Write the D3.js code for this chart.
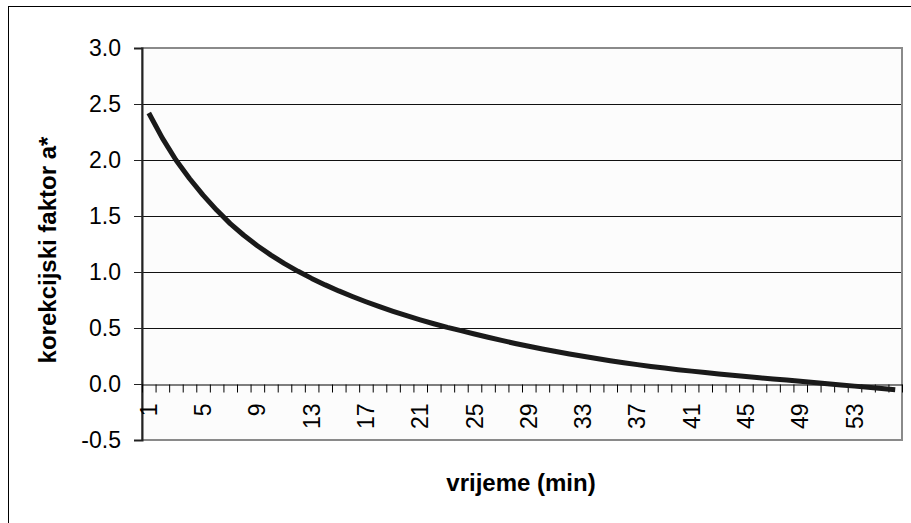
<!DOCTYPE html>
<html>
<head>
<meta charset="utf-8">
<script src="https://cdn.jsdelivr.net/npm/d3@7"></script>
<style>
  body { margin: 0; background: #fff; }
  svg { display: block; font-family: "Liberation Sans", Arial, sans-serif; }
</style>
</head>
<body>
<svg id="chart" width="911" height="523"></svg>
<script>
// data
var minutes = [1, 2, 3, 4, 5, 6, 7, 8, 9, 10, 11, 12, 13, 14, 15, 16, 17, 18, 19, 20,
  21, 22, 23, 24, 25, 26, 27, 28, 29, 30, 31, 32, 33, 34, 35, 36, 37, 38, 39, 40,
  41, 42, 43, 44, 45, 46, 47, 48, 49, 50, 51, 52, 53, 54, 55, 56];
var factor = [2.420, 2.195, 2.000, 1.835, 1.687, 1.553, 1.432, 1.328, 1.235, 1.151,
  1.075, 1.006, 0.943, 0.885, 0.831, 0.781, 0.734, 0.690, 0.649, 0.610,
  0.573, 0.538, 0.505, 0.476, 0.446, 0.417, 0.389, 0.362, 0.337, 0.313,
  0.290, 0.268, 0.247, 0.227, 0.208, 0.190, 0.173, 0.157, 0.142, 0.128,
  0.115, 0.102, 0.090, 0.078, 0.067, 0.056, 0.045, 0.035, 0.025, 0.014,
  0.003, -0.008, -0.019, -0.030, -0.041, -0.052];
var labelledMinutes = [1, 5, 9, 13, 17, 21, 25, 29, 33, 37, 41, 45, 49, 53];
var yTicks = [-0.5, 0.0, 0.5, 1.0, 1.5, 2.0, 2.5, 3.0];
var xTitle = "vrijeme (min)";
var yTitle = "korekcijski faktor a*";

// dimensions
var svg = d3.select("svg#chart"),
    plotLeft = 142, plotRight = 902, plotTop = 48, plotBottom = 440;

// outer chart border
svg.append("rect")
    .attr("x", 8.5).attr("y", 6.5)
    .attr("width", 920).attr("height", 540)
    .attr("fill", "#fff")
    .attr("stroke", "#000")
    .attr("stroke-width", 1);

//scales
var x = d3.scaleBand().domain(minutes).range([plotLeft, plotRight]).padding(0);
var xEdge = d3.scaleLinear().domain([0, minutes.length]).range([plotLeft, plotRight]);
var y = d3.scaleLinear().domain([-0.5, 3.0]).range([plotBottom, plotTop]);

// plot area
svg.append("rect")
    .attr("x", plotLeft).attr("y", plotTop)
    .attr("width", plotRight - plotLeft).attr("height", plotBottom - plotTop)
    .attr("fill", "#fcfcfc");

// gridlines
svg.append("g")
    .selectAll("line")
    .data(yTicks.filter(function(d) { return d > 0 && d < 3; }))
    .enter().append("line")
    .attr("x1", plotLeft).attr("x2", plotRight)
    .attr("y1", function(d) { return Math.round(y(d)) + 0.5; })
    .attr("y2", function(d) { return Math.round(y(d)) + 0.5; })
    .attr("stroke", "#111")
    .attr("stroke-width", 1);

// plot border (grey)
svg.append("rect")
    .attr("x", plotLeft).attr("y", plotTop)
    .attr("width", plotRight - plotLeft).attr("height", plotBottom - plotTop)
    .attr("fill", "none")
    .attr("stroke", "#8a8a8a")
    .attr("stroke-width", 2);

// y axis
var yAxis = svg.append("g")
    .attr("transform", "translate(" + plotLeft + ",0)")
    .call(d3.axisLeft(y).tickValues(yTicks).tickSize(8).tickPadding(13)
      .tickFormat(function(d) { return d.toFixed(1); }));
yAxis.select(".domain").attr("stroke", "#222").attr("stroke-width", 2);
yAxis.selectAll(".tick line").attr("stroke", "#222");
yAxis.selectAll("text")
    .attr("font-size", 23)
    .attr("fill", "#000")
    .attr("font-family", "Liberation Sans, Arial, sans-serif");

// x axis tick marks on category edges
var zeroY = Math.round(y(0)) + 0.5;
var xTickAxis = svg.append("g")
    .attr("transform", "translate(0," + zeroY + ")")
    .call(d3.axisBottom(xEdge).tickValues(d3.range(0, minutes.length + 1))
      .tickSize(8).tickSizeOuter(0).tickFormat(""));
xTickAxis.select(".domain").attr("stroke", "#000");
xTickAxis.selectAll(".tick line").attr("stroke", "#000");

// x axis labels
var xLabelAxis = svg.append("g")
    .attr("transform", "translate(0," + zeroY + ")")
    .call(d3.axisBottom(x).tickValues(labelledMinutes).tickSize(0));
xLabelAxis.select(".domain").remove();
xLabelAxis.selectAll("text")
    .attr("transform", "rotate(-90)")
    .attr("x", -19)
    .attr("y", 0)
    .attr("dy", "0.35em")
    .style("text-anchor", "end")
    .attr("font-size", 23)
    .attr("fill", "#000")
    .attr("font-family", "Liberation Sans, Arial, sans-serif");

// line
var line = d3.line()
    .x(function(d, i) { return x(minutes[i]) + x.bandwidth() / 2; })
    .y(function(d) { return y(d); });
svg.append("path")
    .datum(factor)
    .attr("d", line)
    .attr("fill", "none")
    .attr("stroke", "#1a1a1a")
    .attr("stroke-width", 5)
    .attr("stroke-linejoin", "round");

// axis titles
svg.append("text")
    .attr("x", 521).attr("y", 491)
    .attr("text-anchor", "middle")
    .attr("font-size", 24)
    .attr("font-weight", "bold")
    .text(xTitle);

svg.append("text")
    .attr("transform", "translate(56,250) rotate(-90)")
    .attr("text-anchor", "middle")
    .attr("font-size", 24)
    .attr("font-weight", "bold")
    .text(yTitle);
</script>
</body>
</html>
